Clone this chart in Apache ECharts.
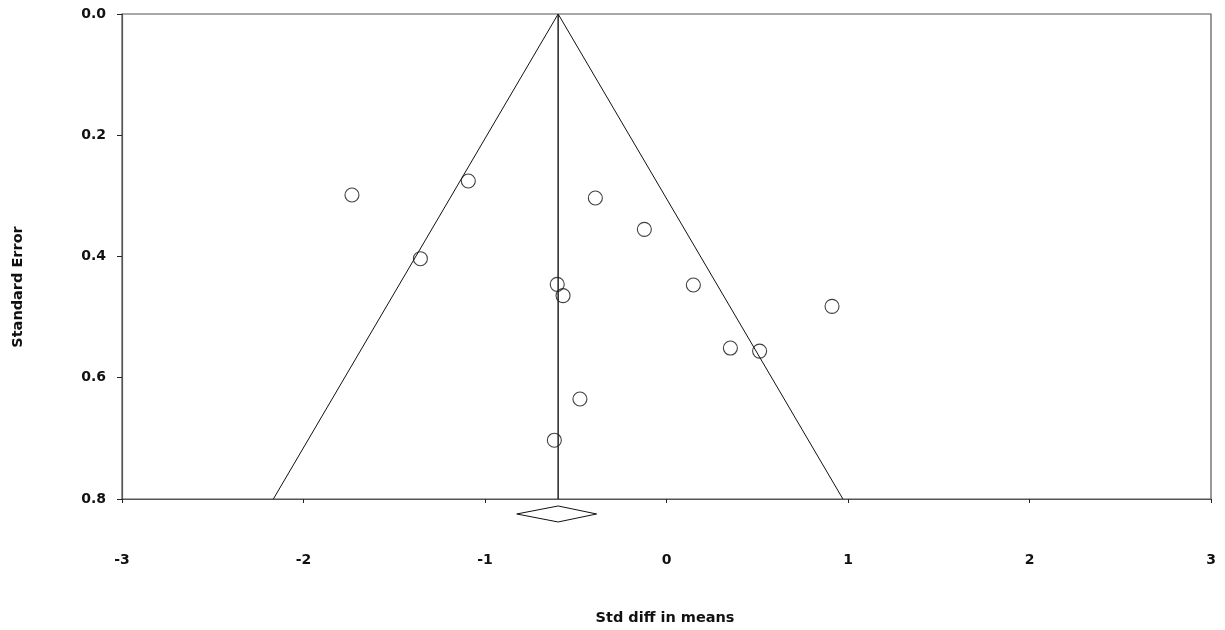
<!DOCTYPE html>
<html>
<head>
<meta charset="utf-8">
<script src="https://cdn.jsdelivr.net/npm/echarts@6/dist/echarts.min.js"></script>
<style>html,body{margin:0;padding:0;background:#fff}#c{width:1225px;height:630px}</style>
</head>
<body>
<div id="c"></div>
<script>
// Study points: [std diff in means, standard error]
var studyX = [-1.733, -1.092, -1.356, -0.392, -0.122, -0.602, -0.570, 0.148, 0.912, 0.352, 0.513, -0.477, -0.618];
var studyY = [0.2986, 0.2755, 0.4036, 0.3035, 0.3552, 0.4459, 0.4646, 0.447, 0.4822, 0.551, 0.556, 0.635, 0.703];
// Funnel boundaries and combined effect
var funnelX = [-2.166, -0.597, 0.972];
var funnelY = [0.8, 0.0, 0.8];
var meanX = [-0.597, -0.597];
var meanY = [0.0, 0.8];
// Summary diamond (below axis)
var diamondX = [-0.825, -0.597, -0.385, -0.597, -0.825];
var diamondY = [0.8247, 0.8115, 0.8247, 0.8379, 0.8247];
var xTicks = [-3, -2, -1, 0, 1, 2, 3];
var yTicks = [0.0, 0.2, 0.4, 0.6, 0.8];

function zip(a, b) { return a.map(function (v, i) { return [v, b[i]]; }); }

var FONT = 'DejaVu Sans';
var chart = echarts.init(document.getElementById('c'));
chart.setOption({
  animation: false,
  backgroundColor: '#fff',
  grid: { left: 122, right: 14, top: 14, bottom: 131, show: true, borderColor: '#555', borderWidth: 1.2, containLabel: false },
  xAxis: {
    type: 'value', min: xTicks[0], max: xTicks[xTicks.length - 1], interval: 1,
    splitLine: { show: false },
    axisLine: { show: true, onZero: false, lineStyle: { color: '#555', width: 1.2 } },
    axisTick: { show: true, inside: false, length: 4, lineStyle: { color: '#222' } },
    axisLabel: { margin: 54, color: '#111', fontFamily: FONT, fontWeight: 'bold', fontSize: 14 }
  },
  yAxis: {
    type: 'value', inverse: true, min: yTicks[0], max: yTicks[yTicks.length - 1], interval: 0.2,
    splitLine: { show: false },
    axisLine: { show: true, onZero: false, lineStyle: { color: '#555', width: 1.2 } },
    axisTick: { show: true, inside: false, length: 5, lineStyle: { color: '#222' } },
    axisLabel: { margin: 16, color: '#111', fontFamily: FONT, fontWeight: 'bold', fontSize: 14,
      formatter: function (v) { return v.toFixed(1); } }
  },
  graphic: [
    { type: 'text', x: 665, y: 618, style: { text: 'Std diff in means', fill: '#111', font: 'bold 14.5px "DejaVu Sans"', align: 'center', verticalAlign: 'middle' } },
    { type: 'text', x: 18, y: 287, rotation: Math.PI / 2, style: { text: 'Standard Error', fill: '#111', font: 'bold 14.5px "DejaVu Sans"', align: 'center', verticalAlign: 'middle' } }
  ],
  series: [
    { type: 'line', data: zip(funnelX, funnelY), symbol: 'none', lineStyle: { color: '#111', width: 1 }, silent: true },
    { type: 'line', data: zip(meanX, meanY), symbol: 'none', lineStyle: { color: '#222', width: 1.5 }, silent: true },
    { type: 'line', data: zip(diamondX, diamondY), symbol: 'none', clip: false, lineStyle: { color: '#111', width: 1 }, silent: true },
    { type: 'scatter', data: zip(studyX, studyY), symbol: 'circle', symbolSize: 14,
      itemStyle: { color: 'rgba(255,255,255,0)', borderColor: '#111', borderWidth: 1.1 }, silent: true }
  ]
});
</script>
</body>
</html>
